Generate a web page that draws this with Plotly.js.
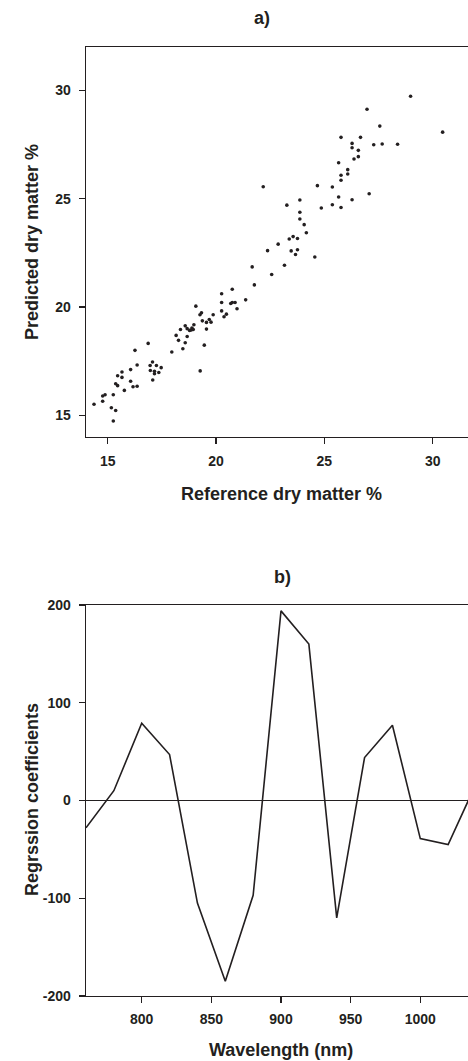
<!DOCTYPE html>
<html>
<head>
<meta charset="utf-8">
<script src="https://cdn.plot.ly/plotly-3.0.1.min.js"></script>
<style>
html,body{margin:0;padding:0;overflow:hidden;background:#fff;width:468px;height:1061px;}
#chart{width:476px;height:1061px;}
</style>
</head>
<body>
<div id="chart"></div>
<script>
// Panel a) reference vs predicted dry matter (%)
const refDM = [22.18,28.98,26.97,27.56,30.46,25.77,26.67,26.28,26.28,26.57,27.28,27.67,28.38,26.57,26.37,25.66,26.08,26.08,25.77,25.77,
  24.68,25.37,23.27,23.87,25.66,26.28,27.07,24.86,25.37,25.77,23.87,23.87,24.07,24.17,23.38,23.56,23.76,22.38,22.87,23.47,
  23.76,23.67,24.56,23.16,22.57,21.67,21.77,20.26,20.75,20.26,20.68,20.75,20.88,21.37,20.26,20.97,20.48,20.37,19.07,19.33,
  19.26,19.37,19.56,19.69,19.77,19.87,19.56,19.46,19.27,18.98,18.89,18.86,18.95,18.78,18.67,18.67,18.58,18.36,18.16,18.27,
  18.58,18.47,17.96,16.87,16.26,16.36,16.96,17.07,17.25,17.47,16.97,17.16,17.16,17.36,17.08,16.06,15.66,15.66,15.46,15.37,
  15.46,16.06,16.17,16.36,15.77,15.26,14.77,14.88,14.77,14.37,15.17,15.37,15.26];
const predDM = [25.55,29.73,29.13,28.35,28.07,27.83,27.83,27.55,27.35,27.23,27.49,27.52,27.51,26.94,26.83,26.66,26.34,26.14,26.08,25.85,
  25.60,25.54,24.70,24.94,25.08,24.95,25.23,24.57,24.72,24.59,24.37,24.06,23.80,23.43,23.14,23.25,23.16,22.60,22.90,22.59,
  22.64,22.42,22.31,21.93,21.50,21.85,21.02,20.61,20.82,20.21,20.16,20.21,20.21,20.33,19.82,19.92,19.67,19.55,20.04,19.73,
  19.64,19.36,19.29,19.42,19.30,19.64,18.98,18.24,17.05,19.18,19.03,18.94,18.96,18.92,19.00,18.64,19.13,18.96,18.69,18.46,
  18.35,18.07,17.92,18.32,18.00,17.32,17.30,17.46,17.30,17.20,17.07,17.03,16.92,16.98,16.63,17.11,17.00,16.75,16.83,16.46,
  16.37,16.57,16.32,16.34,16.15,15.95,15.89,15.95,15.65,15.51,15.35,15.22,14.74];
const dmTicks = [15, 20, 25, 30];

// Panel b) regression coefficients by wavelength
const wavelength = [760,780,800,820,840,860,880,900,920,940,960,980,1000,1020,1040];
const coefficients = [-28,10,79,47,-105,-185,-97,194,160,-120,44,77,-39,-45,17];
const wlTicks = [800, 850, 900, 950, 1000];
const coefTicks = [-200, -100, 0, 100, 200];
const coefTickText = ['-200', '-100', '0', '100', '200'];

const ink = '#231f20';
const fam = 'Liberation Sans, Arial, sans-serif';
const tickFont = {family: fam, size: 14, color: ink, weight: 'bold'};
const titleFont = {family: fam, size: 18, color: ink, weight: 'bold'};

const axisCommon = {
  showgrid: false, showline: true, mirror: true, linecolor: ink, linewidth: 1.3,
  ticks: 'outside', ticklen: 6, tickwidth: 1.3, tickcolor: ink,
  tickfont: tickFont, fixedrange: true
};

const traces = [
  {x: refDM, y: predDM, type: 'scatter', mode: 'markers', xaxis: 'x', yaxis: 'y',
   marker: {color: ink, size: 3.6}, hoverinfo: 'x+y'},
  {x: wavelength, y: coefficients, type: 'scatter', mode: 'lines', xaxis: 'x2', yaxis: 'y2',
   line: {color: ink, width: 1.6}, hoverinfo: 'x+y'}
];

const H = 1061;
const py = p => 1 - p / H;

const layout = {
  width: 476, height: H,
  margin: {l: 86, r: 0, t: 0, b: 0, pad: 0},
  paper_bgcolor: '#fff', plot_bgcolor: '#fff',
  showlegend: false,
  xaxis: Object.assign({}, axisCommon, {domain: [0, 1], range: [14, 32], tickvals: dmTicks, zeroline: false, anchor: 'y', ticklabelstandoff: 5}),
  yaxis: Object.assign({}, axisCommon, {domain: [py(437), py(47)], range: [14, 32], tickvals: dmTicks, zeroline: false, anchor: 'x', ticklabelstandoff: 5}),
  xaxis2: Object.assign({}, axisCommon, {domain: [0, 1], range: [760, 1040], tickvals: wlTicks, zeroline: false, anchor: 'y2', ticklabelstandoff: 4}),
  yaxis2: Object.assign({}, axisCommon, {domain: [py(996), py(605)], range: [-200, 200], tickvals: coefTicks, ticktext: coefTickText,
    zeroline: true, zerolinecolor: ink, zerolinewidth: 1.2, anchor: 'x2', ticklabelstandoff: 5}),
  annotations: [
    {text: 'a)', xref: 'paper', yref: 'paper', x: (262 - 86) / 390, y: py(18), showarrow: false, font: titleFont, xanchor: 'center', yanchor: 'middle'},
    {text: 'b)', xref: 'paper', yref: 'paper', x: (282 - 86) / 390, y: py(577), showarrow: false, font: titleFont, xanchor: 'center', yanchor: 'middle'},
    {text: 'Reference dry matter %', xref: 'paper', yref: 'paper', x: (281 - 86) / 390, y: py(494), showarrow: false, font: titleFont, xanchor: 'center', yanchor: 'middle'},
    {text: 'Predicted dry matter %', xref: 'paper', yref: 'paper', x: (32 - 86) / 390, y: py(242), showarrow: false, font: titleFont, textangle: -90, xanchor: 'center', yanchor: 'middle'},
    {text: 'Wavelength (nm)', xref: 'paper', yref: 'paper', x: (281 - 86) / 390, y: py(1050), showarrow: false, font: titleFont, xanchor: 'center', yanchor: 'middle'},
    {text: 'Regrssion coefficients', xref: 'paper', yref: 'paper', x: (32 - 86) / 390, y: py(800), showarrow: false, font: titleFont, textangle: -90, xanchor: 'center', yanchor: 'middle'}
  ]
};

Plotly.newPlot('chart', traces, layout, {staticPlot: true, displayModeBar: false});
</script>
</body>
</html>
